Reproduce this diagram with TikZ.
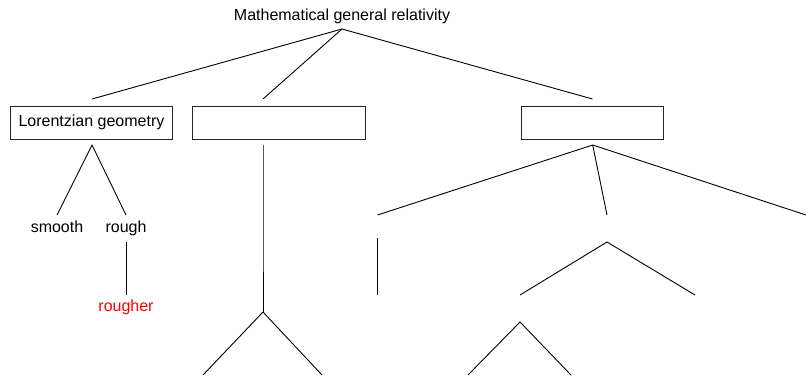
\documentclass[tikz,border=0pt]{standalone}
\usepackage{fontspec}
\setmainfont{Liberation Sans}
\begin{document}
\begin{tikzpicture}[x=1bp,y=-1bp,
  lbl/.style={font=\fontsize{16bp}{19bp}\selectfont, inner sep=0pt, anchor=base},
  boxnode/.style={draw=black!85, line width=0.9bp, inner sep=0pt, minimum height=33bp},
  edge/.style={line width=0.9bp, black}]
\useasboundingbox (0,0) rectangle (806,375);
% labels
\node[lbl] (root) at (342,20) {Mathematical general relativity};
\node[boxnode, minimum width=162.5bp] (lor) at (91.25,122.5) {};
\node[lbl] (lortext) at (91.5,126.7) {Lorentzian geometry};
\node[boxnode, minimum width=173bp] (b2) at (278.5,122.5) {};
\node[boxnode, minimum width=141.6bp] (b3) at (592.5,122.5) {};
\node[lbl] (smooth) at (57,232.7) {smooth};
\node[lbl] (rough) at (126,232.7) {rough};
\node[lbl, text={rgb,255:red,255;green,0;blue,0}] (rougher) at (126,311) {rougher};
% coordinates
\coordinate (r0) at (342,29);
\coordinate (r1) at (92,99);
\coordinate (r2) at (263,99);
\coordinate (r3) at (592.5,99);
\coordinate (l0) at (92,145);
\coordinate (l1) at (57,215);
\coordinate (l2) at (126,215);
\coordinate (ro0) at (126,242);
\coordinate (ro1) at (126,295);
\coordinate (m0) at (263,145);
\coordinate (m1) at (263,232.5);
\coordinate (m2) at (263,312);
\coordinate (m3) at (203,375);
\coordinate (m4) at (322,375);
\coordinate (n0) at (592.7,145);
\coordinate (n1) at (377.5,215);
\coordinate (n2) at (607,215);
\coordinate (n3) at (806,215);
\coordinate (p0) at (377.5,238);
\coordinate (p1) at (377.5,295);
\coordinate (q0) at (607,242);
\coordinate (q1) at (520,295);
\coordinate (q2) at (695,295);
\coordinate (s0) at (520,322);
\coordinate (s1) at (468,375);
\coordinate (s2) at (571,375);
% edges
\draw[edge] (r1) -- (r0) -- (r3);
\draw[edge] (r0) -- (r2);
\draw[edge] (l1) -- (l0) -- (l2);
\draw[edge] (ro0) -- (ro1);
\draw[edge] (m0) -- (m1) -- (m2);
\draw[edge] (m3) -- (m2) -- (m4);
\draw[edge] (n1) -- (n0) -- (n3);
\draw[edge] (n0) -- (n2);
\draw[edge] (p0) -- (p1);
\draw[edge] (q1) -- (q0) -- (q2);
\draw[edge] (s1) -- (s0) -- (s2);
\end{tikzpicture}
\end{document}
